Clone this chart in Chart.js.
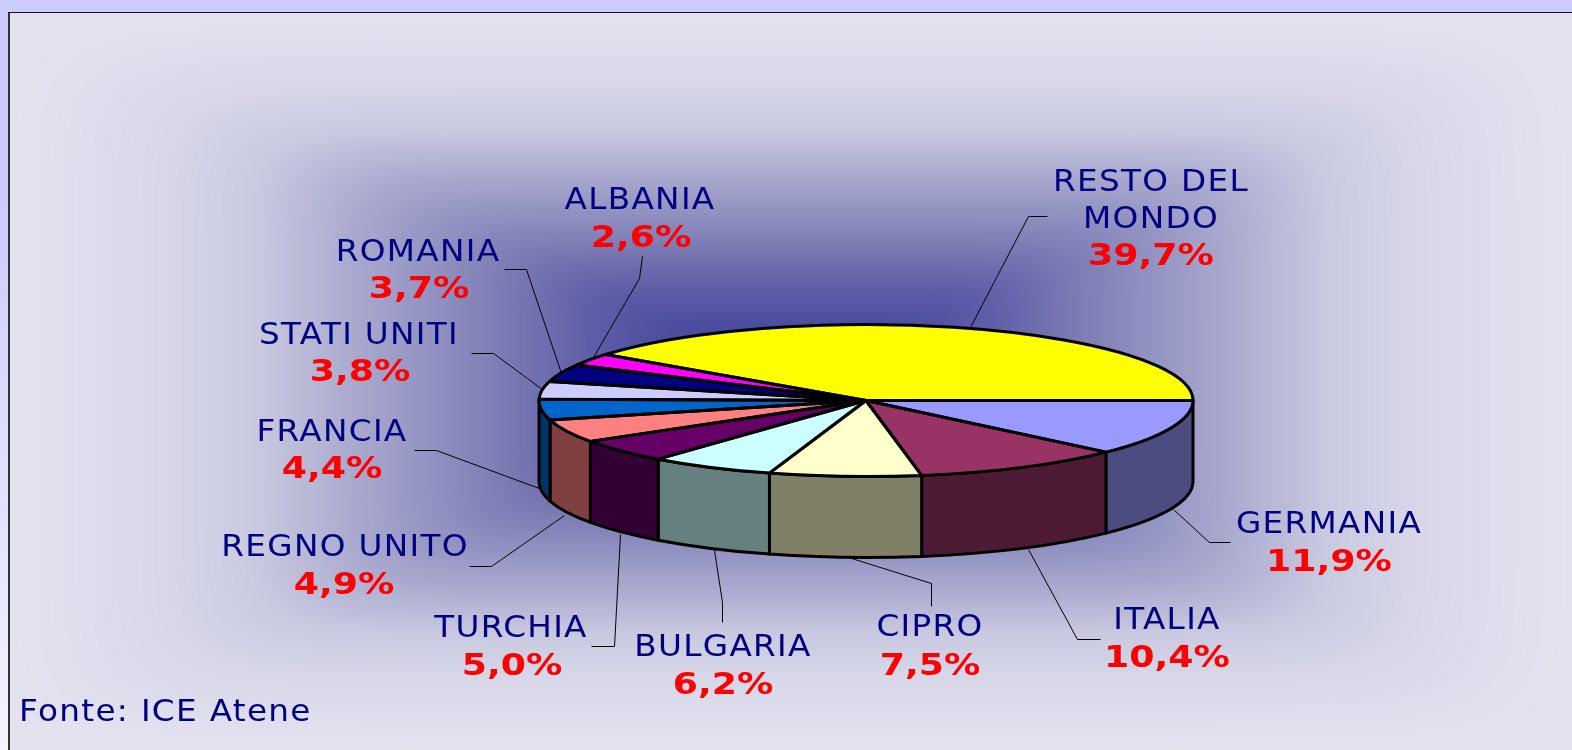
<!DOCTYPE html>
<html><head><meta charset="utf-8">
<style>html,body{margin:0;padding:0;background:#ccccff;overflow:hidden}canvas{display:block}</style>
<script src="https://cdn.jsdelivr.net/npm/chart.js@4"></script>
</head><body><canvas id="c" width="1572" height="750" style="width:1572px;height:750px"></canvas>
<script>
const categories = ["RESTO DEL MONDO","GERMANIA","ITALIA","CIPRO","BULGARIA","TURCHIA","REGNO UNITO","FRANCIA","STATI UNITI","ROMANIA","ALBANIA"];
const shares = [39.7,11.9,10.4,7.5,6.2,5.0,4.9,4.4,3.8,3.7,2.6];
const topColours = ["#ffff00","#9999ff","#993366","#ffffcc","#ccffff","#660066","#ff8080","#0066cc","#ccccff","#000080","#ff00ff"];
const wallColours = ["#808000","#4c4c80","#4d1a33","#808066","#668080","#330033","#804040","#003366","#666680","#000040","#800080"];
const source = "Fonte: ICE Atene";

// label layout: name lines with centre x and baselines, then percentage
const labelLayout = [
 {lines:["RESTO DEL","MONDO"],x:1151,y:[191,228],px:1151,py:265},
 {lines:["GERMANIA"],x:1329,y:[533],px:1329,py:571},
 {lines:["ITALIA"],x:1167,y:[629],px:1167,py:667},
 {lines:["CIPRO"],x:930,y:[636],px:930,py:675},
 {lines:["BULGARIA"],x:723,y:[656],px:723,py:694},
 {lines:["TURCHIA"],x:511,y:[637],px:512,py:675},
 {lines:["REGNO UNITO"],x:345,y:[556],px:344,py:594},
 {lines:["FRANCIA"],x:332,y:[441],px:332,py:478},
 {lines:["STATI UNITI"],x:359,y:[344],px:360,py:381},
 {lines:["ROMANIA"],x:418,y:[261],px:419,py:298},
 {lines:["ALBANIA"],x:640,y:[209],px:641,py:247}
];
const leaders = [
 [[1047,216],[1028,216],[970,327]],
 [[1230,542],[1209,542],[1173,509]],
 [[1100,639],[1077,639],[1028,549]],
 [[931,606],[931,583],[848,557]],
 [[722,622],[722,602],[714,550]],
 [[591,646],[614,646],[620,534]],
 [[469,566],[491,566],[564,515]],
 [[414,450],[436,450],[539,488]],
 [[471,353],[493,353],[542,389]],
 [[504,269],[526,269],[561,373]],
 [[642,256],[639,278],[593,357]]
];
const squash = 76/327, wallDepth = 81;
const gradStops = [[0,[64,69,152]],[.15,[76,76,159]],[.247,[92,92,168]],[.355,[122,120,178]],[.46,[146,146,194]],[.57,[172,172,208]],[.68,[200,200,224]],[.79,[214,214,232]],[1,[227,227,240]]];
const frame = {cx:790,cy:381,hw:782,hh:369};

function buildBackground(w,h){
  const off=document.createElement('canvas');off.width=w;off.height=h;
  const o=off.getContext('2d');const img=o.createImageData(w,h);const d=img.data;
  for(let y=0;y<h;y++)for(let x=0;x<w;x++){
    let r,g,b;
    if(y<12){r=204;g=204;b=255;}
    else if(x<8){const f=Math.max(0,Math.min(1,(y-200)/550));r=204+40*f;g=204+40*f;b=255;}
    else if(y<13||x<10){r=g=b=y<13?20:50;}
    else{
      const tx=Math.abs(x-frame.cx)/frame.hw,ty=Math.abs(y-frame.cy)/frame.hh;
      const t=Math.min(1,Math.pow(Math.pow(tx,10)+Math.pow(ty,10),1/10));
      let i=0;while(i<gradStops.length-2&&t>gradStops[i+1][0])i++;
      const a=gradStops[i],c=gradStops[i+1],f=(t-a[0])/(c[0]-a[0]);
      r=a[1][0]+(c[1][0]-a[1][0])*f;g=a[1][1]+(c[1][1]-a[1][1])*f;b=a[1][2]+(c[1][2]-a[1][2])*f;
    }
    const p=(y*w+x)*4;d[p]=r;d[p+1]=g;d[p+2]=b;d[p+3]=255;
  }
  o.putImageData(img,0,0);return off;
}
let bg=null;

function stretchText(ctx,text,x,y,font,colour,sx,spacing,align){
  ctx.save();ctx.font=font;ctx.fillStyle=colour;ctx.textBaseline='alphabetic';ctx.textAlign=align||'center';
  ctx.letterSpacing=spacing+'px';
  ctx.translate(x,y);ctx.scale(sx,1);ctx.fillText(text,0,0);ctx.restore();
}

const pie3d={
  id:'pie3d',
  beforeDraw(chart){
    if(!bg)bg=buildBackground(chart.width,chart.height);
    chart.ctx.drawImage(bg,0,0);
  },
  beforeDatasetsDraw(chart){
    const ctx=chart.ctx;
    ctx.save();ctx.strokeStyle='#000';ctx.lineWidth=1;
    leaders.forEach(l=>{ctx.beginPath();l.forEach((p,i)=>i?ctx.lineTo(p[0]+.5,p[1]+.5):ctx.moveTo(p[0]+.5,p[1]+.5));ctx.stroke();});
    ctx.restore();
    const arcs=chart.getDatasetMeta(0).data;
    ctx.save();ctx.lineWidth=3;ctx.strokeStyle='#000';ctx.lineJoin='round';
    arcs.forEach((arc,i)=>{
      const a=arc.getProps(['x','y','startAngle','endAngle','outerRadius'],true);
      const s=Math.max(a.startAngle,0),e=Math.min(a.endAngle,Math.PI);
      if(e<=s)return;
      const r=a.outerRadius,ry=r*squash;
      ctx.beginPath();
      ctx.ellipse(a.x,a.y,r,ry,0,s,e);
      ctx.ellipse(a.x,a.y+wallDepth,r,ry,0,e,s,true);
      ctx.closePath();
      ctx.fillStyle=wallColours[i];ctx.fill();ctx.stroke();
    });
    ctx.restore();
    const a0=arcs[0];
    ctx.save();ctx.translate(a0.x,a0.y);ctx.scale(1,squash);ctx.translate(-a0.x,-a0.y);
  },
  afterDatasetsDraw(chart){
    const ctx=chart.ctx;ctx.restore();
    const arcs=chart.getDatasetMeta(0).data;
    ctx.save();ctx.lineWidth=3;ctx.strokeStyle='#000';ctx.lineJoin='round';
    arcs.forEach(arc=>{
      const a=arc.getProps(['x','y','startAngle','endAngle','outerRadius'],true);
      ctx.beginPath();ctx.moveTo(a.x,a.y);
      ctx.ellipse(a.x,a.y,a.outerRadius,a.outerRadius*squash,0,a.startAngle,a.endAngle);
      ctx.closePath();ctx.stroke();
    });
    ctx.restore();
  },
  afterDraw(chart){
    const ctx=chart.ctx,nameFont='30px "DejaVu Sans"',pctFont='bold 31px "DejaVu Sans"';
    labelLayout.forEach((l,i)=>{
      l.lines.forEach((t,j)=>stretchText(ctx,t,l.x,l.y[j],nameFont,'#000080',1.09,1.2));
      stretchText(ctx,shares[i].toFixed(1).replace('.',',')+'%',l.px,l.py,pctFont,'#ff0000',1.17,0);
    });
    stretchText(ctx,source,19,721,nameFont,'#000080',1.09,1.2,'left');
  }
};

new Chart(document.getElementById('c'),{
  type:'pie',
  data:{labels:categories,datasets:[{data:shares,backgroundColor:topColours,borderWidth:0,hoverOffset:0}]},
  options:{
    responsive:false,animation:false,devicePixelRatio:1,
    rotation:90-shares[0]/shares.reduce((a,b)=>a+b,0)*360,
    layout:{padding:{left:539,right:379,top:73.5,bottom:22.5}},
    plugins:{legend:{display:false},tooltip:{enabled:false}},
    events:[]
  },
  plugins:[pie3d]
});
</script></body></html>
